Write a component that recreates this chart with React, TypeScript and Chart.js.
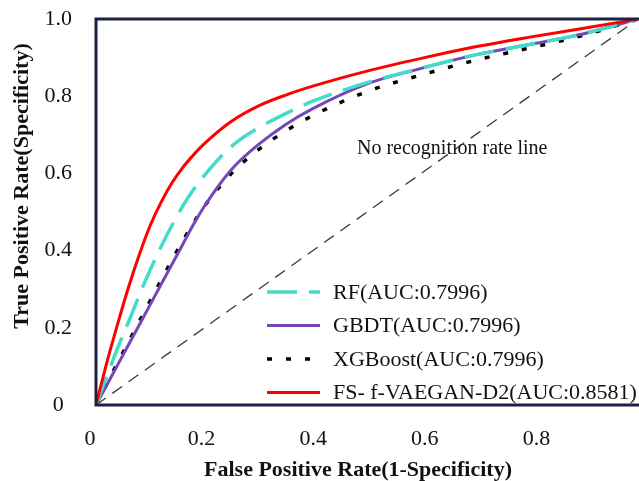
import React, { useEffect, useRef } from 'react';
import { Chart, registerables } from 'chart.js';

Chart.register(...registerables);

const FONT = '"Liberation Serif", "Times New Roman", Times, serif';
const FRAME_COLOR = '#1c2142';
const TEXT_COLOR = '#111111';

const X_TITLE = 'False Positive Rate(1-Specificity)';
const Y_TITLE = 'True Positive Rate(Specificity)';
const DIAG_TEXT = 'No recognition rate line';

const X_TICKS = [0, 0.2, 0.4, 0.6, 0.8, 1];

// False positive rate grid shared by the four ROC curves
const FPR = [0, 0.02, 0.04, 0.06, 0.08, 0.1, 0.12, 0.14, 0.16, 0.18, 0.2, 0.25, 0.3, 0.35, 0.4, 0.5, 0.6, 0.7, 0.8, 0.9, 1];

const RF_LABEL = 'RF(AUC:0.7996)';
const RF_TPR = [0, 0.075, 0.148, 0.215, 0.285, 0.35, 0.41, 0.465, 0.515, 0.558, 0.595, 0.67, 0.718, 0.755, 0.787, 0.835, 0.873, 0.907, 0.934, 0.962, 1];

const GBDT_LABEL = 'GBDT(AUC:0.7996)';
const GBDT_TPR = [0, 0.052, 0.104, 0.156, 0.208, 0.26, 0.312, 0.364, 0.416, 0.468, 0.515, 0.61, 0.675, 0.727, 0.768, 0.832, 0.872, 0.907, 0.934, 0.962, 1];

const XGB_LABEL = 'XGBoost(AUC:0.7996)';
const XGB_TPR = [0, 0.055, 0.11, 0.163, 0.217, 0.27, 0.323, 0.375, 0.425, 0.472, 0.515, 0.6, 0.662, 0.71, 0.75, 0.812, 0.855, 0.893, 0.925, 0.958, 1];

const FS_LABEL = 'FS- f-VAEGAN-D2(AUC:0.8581)';
const FS_TPR = [0, 0.11, 0.21, 0.305, 0.39, 0.465, 0.525, 0.575, 0.615, 0.648, 0.677, 0.735, 0.775, 0.803, 0.826, 0.865, 0.898, 0.928, 0.953, 0.976, 1];

const DIAG_FPR = [0, 1];
const DIAG_TPR = [0, 1];

const toPoints = (xs: number[], ys: number[]) => xs.map((x, i) => ({ x, y: ys[i] }));

const overlayPlugin = {
  id: 'overlayPlugin',
  afterDatasetsDraw(chart: any) {
    const { ctx, chartArea: a } = chart;
    ctx.save();
    // frame (top, left, bottom)
    ctx.strokeStyle = FRAME_COLOR;
    ctx.lineWidth = 3;
    ctx.setLineDash([]);
    ctx.beginPath();
    ctx.moveTo(chart.width, a.top);
    ctx.lineTo(a.left, a.top);
    ctx.lineTo(a.left, a.bottom);
    ctx.lineTo(chart.width, a.bottom);
    ctx.stroke();

    ctx.fillStyle = TEXT_COLOR;
    ctx.textBaseline = 'middle';

    // diagonal annotation
    ctx.font = `20px ${FONT}`;
    ctx.textAlign = 'left';
    ctx.fillText(DIAG_TEXT, a.left + 261, a.top + 130);

    // legend
    const items = chart.data.datasets.filter((d: any) => d.inLegend);
    ctx.font = `22px ${FONT}`;
    items.forEach((d: any, i: number) => {
      const y = a.bottom - 113 + i * 33.5;
      ctx.save();
      ctx.strokeStyle = d.borderColor;
      ctx.lineWidth = d.borderWidth;
      ctx.setLineDash(d.borderDash || []);
      ctx.lineCap = 'butt';
      ctx.beginPath();
      ctx.moveTo(a.left + 171, y);
      ctx.lineTo(a.left + 224, y);
      ctx.stroke();
      ctx.restore();
      ctx.fillText(d.label, a.left + 237, y + 1);
    });

    // axis titles
    ctx.font = `bold 22px ${FONT}`;
    ctx.textAlign = 'center';
    ctx.fillText(X_TITLE, a.left + 262, a.bottom + 65);
    ctx.translate(22, a.top + 167);
    ctx.rotate(-Math.PI / 2);
    ctx.fillText(Y_TITLE, 0, 0);
    ctx.restore();
  },
};

export default function App() {
  const ref = useRef<HTMLCanvasElement | null>(null);

  useEffect(() => {
    if (!ref.current) return;
    const common = {
      pointRadius: 0,
      pointHoverRadius: 0,
      fill: false,
      cubicInterpolationMode: 'monotone' as const,
      xAxisID: 'x',
      yAxisID: 'y',
    };
    const chart = new Chart(ref.current, {
      type: 'line',
      data: {
        datasets: [
          {
            ...common,
            label: RF_LABEL,
            data: toPoints(FPR, RF_TPR),
            borderColor: '#42dcc8',
            borderWidth: 3.5,
            borderDash: [30, 12],
            inLegend: true,
            order: 1,
          } as any,
          {
            ...common,
            label: GBDT_LABEL,
            data: toPoints(FPR, GBDT_TPR),
            borderColor: '#7446b8',
            borderWidth: 3,
            borderDash: [],
            inLegend: true,
            order: 2,
          } as any,
          {
            ...common,
            label: XGB_LABEL,
            data: toPoints(FPR, XGB_TPR),
            borderColor: '#000000',
            borderWidth: 3.5,
            borderDash: [5, 14],
            inLegend: true,
            order: 3,
          } as any,
          {
            ...common,
            label: FS_LABEL,
            data: toPoints(FPR, FS_TPR),
            borderColor: '#ff0000',
            borderWidth: 3,
            borderDash: [],
            inLegend: true,
            order: 0,
          } as any,
          {
            ...common,
            label: DIAG_TEXT,
            data: toPoints(DIAG_FPR, DIAG_TPR),
            borderColor: '#3a3a3a',
            borderWidth: 1.3,
            borderDash: [12, 8],
            cubicInterpolationMode: 'default',
            inLegend: false,
            order: 4,
          } as any,
        ],
      },
      options: {
        responsive: false,
        animation: false,
        devicePixelRatio: 1,
        layout: { padding: { left: 0, right: 1, top: 19, bottom: 0 } },
        plugins: {
          legend: { display: false },
          tooltip: { enabled: false },
          title: { display: false },
        },
        scales: {
          x: {
            type: 'linear',
            axis: 'x',
            position: 'bottom',
            min: 0,
            max: 1,
            display: false,
          },
          x2: {
            type: 'linear',
            axis: 'x',
            position: 'bottom',
            bounds: 'data',
            min: 6 / 558,
            max: 548 / 558,
            grid: { display: false, drawTicks: false },
            border: { display: false },
            ticks: {
              autoSkip: false,
              maxRotation: 0,
              minRotation: 0,
              padding: 21,
              color: TEXT_COLOR,
              font: { family: FONT, size: 22 },
              callback: (v: any) => (Math.abs(v) < 1e-9 ? '0' : Math.abs(v - 1) < 1e-9 ? '1' : Number(v).toFixed(1)),
            },
            afterBuildTicks: (s: any) => {
              s.ticks = X_TICKS.map((value) => ({ value }));
            },
            afterFit: (s: any) => {
              s.height = 76;
              s.paddingLeft = 0;
              s.paddingRight = 0;
            },
          } as any,
          y: {
            type: 'linear',
            position: 'left',
            min: 0,
            max: 1,
            grid: { display: false, drawTicks: false },
            border: { display: false },
            ticks: {
              stepSize: 0.2,
              padding: 24,
              crossAlign: 'center',
              color: TEXT_COLOR,
              font: { family: FONT, size: 22 },
              callback: (v: any) => (Math.abs(v) < 1e-9 ? '0' : Number(v).toFixed(1)),
            },
            afterFit: (s: any) => {
              s.width = 96;
              s.paddingTop = 0;
              s.paddingBottom = 0;
            },
          },
        },
      } as any,
      plugins: [overlayPlugin],
    });
    return () => chart.destroy();
  }, []);

  return (
    <div style={{ position: 'absolute', left: 0, top: 0, width: 639, height: 481, background: '#fff' }}>
      <canvas ref={ref} width={639} height={481} style={{ display: 'block' }} />
    </div>
  );
}
